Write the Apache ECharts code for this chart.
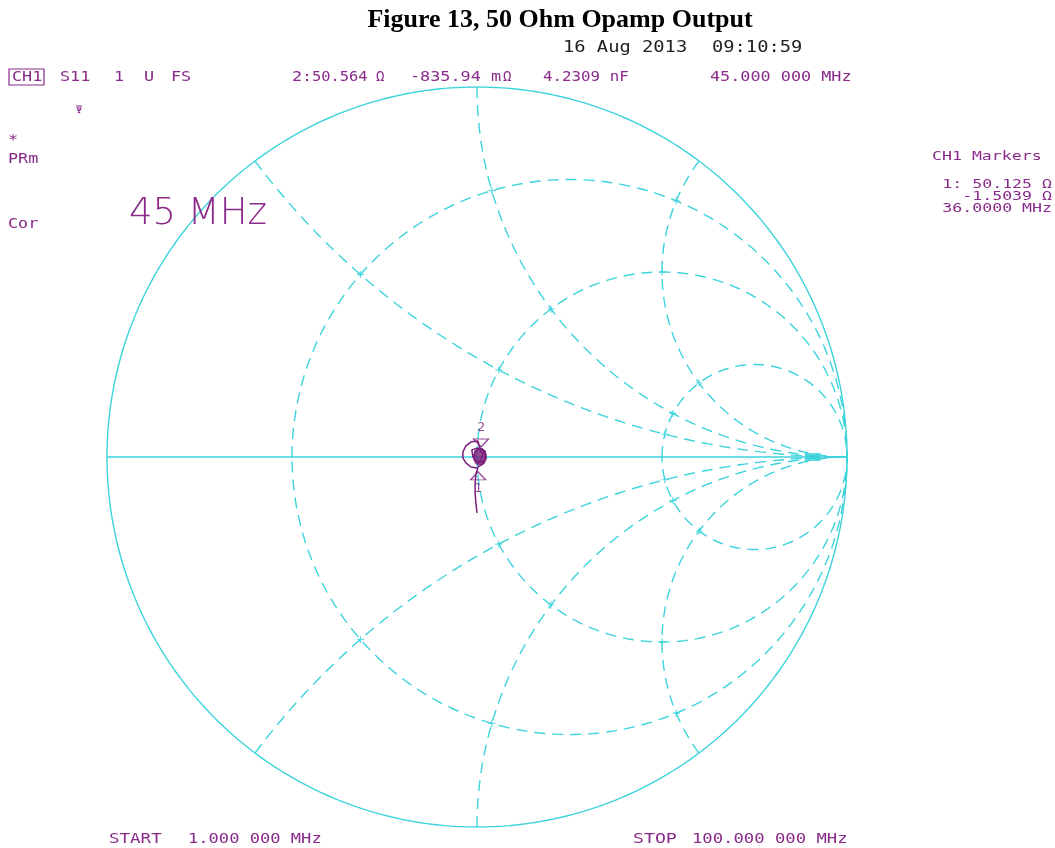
<!DOCTYPE html>
<html>
<head>
<meta charset="utf-8">
<title>Figure 13, 50 Ohm Opamp Output</title>
<script src="https://cdn.jsdelivr.net/npm/echarts@6/dist/echarts.min.js"></script>
<style>
  html, body { margin: 0; padding: 0; background: #fff; }
  #chart { width: 1055px; height: 848px; }
</style>
</head>
<body>
<div id="chart"></div>
<script>
// Smith chart graticule (normalised resistance circles / reactance arcs)
const rCircles = [1 / 3, 1, 3];
const xArcs = [0.5, 1, 2, -0.5, -1, -2];

// S11 trace, reflection coefficient (re, im)
const traceRe = [0, -0.003, -0.005, -0.005, -0.003, 0.003, 0.014, 0.024, 0.022, 0.008, -0.005, -0.008,
  0.003, 0.019, 0.024, 0.014, 0, -0.014, -0.011, 0, 0.011, 0.016, 0.008, 0.003, -0.016, -0.030,
  -0.038, -0.038, -0.030, -0.016, 0];
const traceIm = [-0.151, -0.124, -0.097, -0.070, -0.046, -0.027, -0.019, -0.003, 0.016, 0.024, 0.016, -0.003,
  -0.016, -0.011, 0.005, 0.022, 0.024, 0.019, 0, -0.014, -0.008, 0.008, 0.019, 0.043, 0.041, 0.030,
  0.014, -0.003, -0.016, -0.027, -0.030];

// dense knot of trace points around 50 ohm
const knotRe = [0.008];
const knotIm = [0];

// markers
const markerNames = ['1', '2'];
const markerRe = [0.003, 0.011];
const markerIm = [-0.024, 0.019];

// bright spot on the real axis near the open end
const spotRe = [0.907];
const spotIm = [0];

const CYAN = '#3cd3dc';
const PURPLE = '#8a2a8a';
const TRACE = '#7a1c7a';

function rCircle(r) {
  const c = r / (1 + r), rad = 1 / (1 + r);
  let pts = [];
  for (let i = 0; i <= 360; i++) {
    const a = Math.PI - i * Math.PI / 180;
    pts.push([c + rad * Math.cos(a), rad * Math.sin(a)]);
  }
  return pts;
}

function xArc(x) {
  const s = x < 0 ? -1 : 1;
  const ax = Math.abs(x);
  const cy = 1 / ax, rad = 1 / ax;
  const px = (ax * ax - 1) / (ax * ax + 1), py = 2 * ax / (ax * ax + 1);
  let a0 = Math.atan2(py - cy, px - 1);
  if (a0 < 0) a0 += 2 * Math.PI;
  const a1 = 1.5 * Math.PI;
  let pts = [];
  for (let i = 0; i <= 300; i++) {
    const a = a0 + (a1 - a0) * i / 300;
    pts.push([1 + rad * Math.cos(a), s * (cy + rad * Math.sin(a))]);
  }
  return pts;
}

// gamma for z = r + jx
function gamma(r, x) {
  const d = (r + 1) * (r + 1) + x * x;
  return [(r * r + x * x - 1) / d, 2 * x / d];
}

const dashed = { color: CYAN, width: 1.4, type: [11, 7] };
const solid = { color: CYAN, width: 1.4, type: 'solid' };

let series = [];
series.push({ type: 'line', data: rCircle(0), showSymbol: false, silent: true, lineStyle: solid });
series.push({ type: 'line', data: [[-1, 0], [1, 0]], showSymbol: false, silent: true, lineStyle: solid });
rCircles.forEach(function (r) {
  series.push({ type: 'line', data: rCircle(r), showSymbol: false, silent: true, lineStyle: dashed });
});
xArcs.forEach(function (x) {
  series.push({ type: 'line', data: xArc(x), showSymbol: false, silent: true, lineStyle: dashed });
});

// little crosses where the graticule lines meet
let crossings = [];
rCircles.forEach(function (r) {
  xArcs.forEach(function (x) { crossings.push(gamma(r, x)); });
});
series.push({
  type: 'scatter', silent: true, data: crossings,
  symbol: 'path://M0,-5L0,5M-5,0L5,0', symbolSize: 7,
  itemStyle: { color: 'none', borderColor: CYAN, borderWidth: 1.2 }
});
series.push({
  type: 'scatter', silent: true,
  data: spotRe.map(function (v, i) { return [v, spotIm[i]]; }),
  symbol: 'rect', symbolSize: [16, 8], itemStyle: { color: CYAN }
});

series.push({
  type: 'line',
  data: traceRe.map(function (v, i) { return [v, traceIm[i]]; }),
  showSymbol: false, silent: true, z: 5,
  lineStyle: { color: TRACE, width: 1.5 }
});
series.push({
  type: 'scatter', z: 6, silent: true,
  data: knotRe.map(function (v, i) { return [v, knotIm[i]]; }),
  symbol: 'circle', symbolSize: [14, 18],
  itemStyle: { color: TRACE }
});
// marker 2 (down triangle above point), marker 1 (up triangle below point)
series.push({
  type: 'scatter', z: 7, silent: true,
  data: [[markerRe[1], markerIm[1]]],
  symbol: 'triangle', symbolRotate: 180, symbolSize: [15, 8], symbolOffset: [0, -7],
  itemStyle: { color: 'rgba(0,0,0,0)', borderColor: TRACE, borderWidth: 1.3 },
  label: { show: true, formatter: markerNames[1], position: 'top', distance: 4,
    color: TRACE, fontSize: 13, fontFamily: 'DejaVu Sans Mono' }
});
series.push({
  type: 'scatter', z: 7, silent: true,
  data: [[markerRe[0], markerIm[0]]],
  symbol: 'triangle', symbolSize: [15, 8], symbolOffset: [0, 10],
  itemStyle: { color: 'rgba(0,0,0,0)', borderColor: TRACE, borderWidth: 1.3 },
  label: { show: true, formatter: markerNames[0], position: 'bottom', distance: 2,
    color: TRACE, fontSize: 13, fontFamily: 'DejaVu Sans Mono' }
});

function txt(x, y, s, o) {
  o = o || {};
  return {
    type: 'text', x: x, y: y, scaleX: o.sx || 1.2, z: 10,
    style: {
      text: s, fill: o.color || PURPLE,
      font: (o.weight || 'normal') + ' ' + (o.size || 14) + 'px ' + (o.family || '"DejaVu Sans Mono"'),
      textAlign: o.align || 'left', textVerticalAlign: 'middle'
    }
  };
}

const small = { size: 12, sx: 1.38, align: 'right' };

const graphics = [
  txt(560, 20, 'Figure 13, 50 Ohm Opamp Output',
    { color: '#000', weight: 'bold', size: 26, family: '"Liberation Serif"', align: 'center', sx: 1 }),
  txt(563, 48, '16 Aug 2013', { color: '#222', size: 15, sx: 1.25 }),
  txt(712, 48, '09:10:59', { color: '#222', size: 15, sx: 1.25 }),
  { type: 'rect', x: 9, y: 69, z: 10, shape: { width: 35, height: 16 },
    style: { fill: 'none', stroke: PURPLE, lineWidth: 1.2 } },
  txt(12, 77, 'CH1'),
  txt(60, 77, 'S11'),
  txt(114, 77, '1'),
  txt(144, 77, 'U'),
  txt(171, 77, 'FS'),
  txt(292, 77, '2:'),
  txt(312, 77, '50.564', { sx: 1.1 }),
  txt(376, 77, 'Ω', { sx: 1 }),
  txt(410, 77, '-835.94 m'),
  txt(503, 77, 'Ω', { sx: 1 }),
  txt(543, 77, '4.2309 nF', { sx: 1.13 }),
  txt(710, 77, '45.000 000 MHz'),
  txt(76, 110, 'Ψ', { size: 10, sx: 1 }),
  txt(8, 140, '*'),
  txt(8, 159, 'PRm'),
  txt(8, 224, 'Cor'),
  txt(129, 214, '45 MHz', { size: 37, weight: 200, family: '"DejaVu Sans"', sx: 1 }),
  txt(932, 157, 'CH1 Markers', { size: 12, sx: 1.38 }),
  txt(1052, 185, '1: 50.125 Ω', small),
  txt(1052, 197, '-1.5039 Ω', small),
  txt(1052, 209, '36.0000 MHz', small),
  txt(109, 839, 'START', { sx: 1.25 }),
  txt(188, 839, '1.000 000 MHz', { sx: 1.22 }),
  txt(633, 839, 'STOP', { sx: 1.3 }),
  txt(692, 839, '100.000 000 MHz', { sx: 1.23 })
];

const chart = echarts.init(document.getElementById('chart'), null, { renderer: 'canvas' });
const option = {
  backgroundColor: '#ffffff',
  animation: false,
  grid: { left: 107, top: 87, width: 740, height: 740 },
  xAxis: { type: 'value', min: -1, max: 1, show: false },
  yAxis: { type: 'value', min: -1, max: 1, show: false },
  graphic: graphics,
  series: series
};
chart.setOption(option);
</script>
</body>
</html>
